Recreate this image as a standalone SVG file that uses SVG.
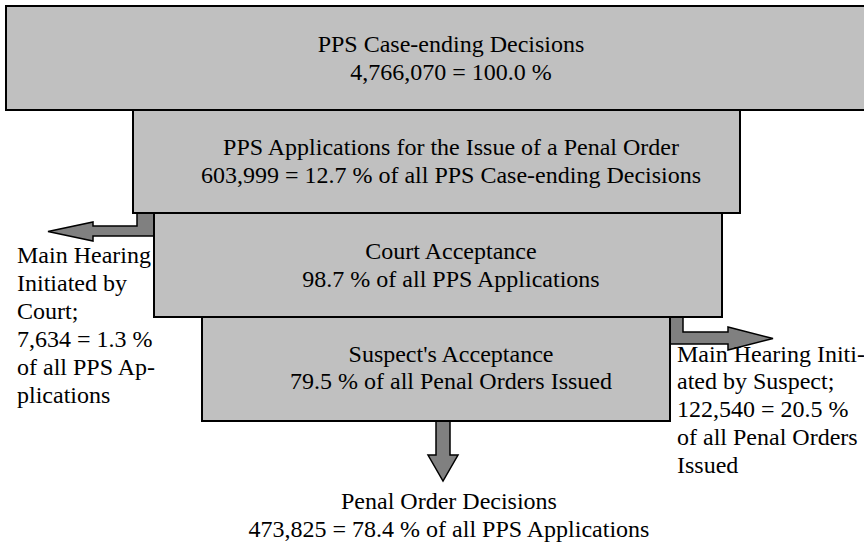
<svg xmlns="http://www.w3.org/2000/svg" width="864" height="547" viewBox="0 0 864 547">
  <style>
    .box { fill: #c0c0c0; stroke: #000; stroke-width: 2; }
    .arrow { fill: #808080; stroke: #000; stroke-width: 1.5; stroke-linejoin: miter; }
    text { font-family: "Liberation Serif", "Times New Roman", serif; font-size: 24px; fill: #000; }
    .c { text-anchor: middle; }
  </style>
  <rect width="864" height="547" fill="#fff"/>

  <!-- flow arrows -->
  <g id="connectors">
    <polygon class="arrow" points="154,213 137,213 137,226 93,226 93,222 48,231.5 93,241 93,236 154,236"/>
    <polygon class="arrow" points="670,317 683,317 683,332 728,332 728,327 773,338.5 728,350 728,344 670,344"/>
    <polygon class="arrow" points="436,421 450,421 450,455 458,455 443,481 428,455 436,455"/>
  </g>

  <g id="case-ending">
    <rect class="box" x="6" y="6" width="890" height="104"/>
    <text class="c" x="451" y="52">PPS Case-ending Decisions</text>
    <text class="c" x="451" y="80">4,766,070 = 100.0 %</text>
  </g>

  <g id="applications">
    <rect class="box" x="133" y="110" width="607" height="103"/>
    <text class="c" x="451" y="155">PPS Applications for the Issue of a Penal Order</text>
    <text class="c" x="451" y="183">603,999 = 12.7 % of all PPS Case-ending Decisions</text>
  </g>

  <g id="court-acceptance">
    <rect class="box" x="154" y="213" width="568" height="104"/>
    <text class="c" x="451" y="259">Court Acceptance</text>
    <text class="c" x="451" y="287">98.7 % of all PPS Applications</text>
  </g>

  <g id="suspect-acceptance">
    <rect class="box" x="202" y="317" width="468" height="104"/>
    <text class="c" x="451" y="362">Suspect's Acceptance</text>
    <text class="c" x="451" y="389">79.5 % of all Penal Orders Issued</text>
  </g>

  <g id="court-hearing">
    <text x="17" y="263">Main Hearing</text>
    <text x="17" y="291">Initiated by</text>
    <text x="17" y="319">Court;</text>
    <text x="17" y="347">7,634 = 1.3 %</text>
    <text x="17" y="375">of all PPS Ap-</text>
    <text x="17" y="403">plications</text>
  </g>

  <g id="suspect-hearing">
    <text x="677" y="362">Main Hearing Initi-</text>
    <text x="677" y="389">ated by Suspect;</text>
    <text x="677" y="417">122,540 = 20.5 %</text>
    <text x="677" y="445">of all Penal Orders</text>
    <text x="677" y="473">Issued</text>
  </g>

  <g id="penal-order-decisions">
    <text class="c" x="449" y="509">Penal Order Decisions</text>
    <text class="c" x="449" y="537">473,825 = 78.4 % of all PPS Applications</text>
  </g>
</svg>
